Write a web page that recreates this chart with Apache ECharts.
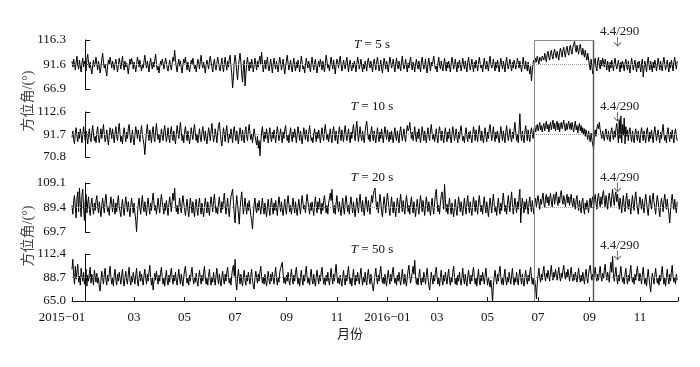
<!DOCTYPE html>
<html><head><meta charset="utf-8">
<script src="https://cdn.jsdelivr.net/npm/echarts@6/dist/echarts.min.js"></script>
<style>html,body{margin:0;padding:0;background:#fff}#c{width:700px;height:367px}</style>
</head><body><div id="c"></div>
<script>
// ---- data (x = day counted from 2015-01-01) ----
const dayStart = -16;
const xMin = -16, xMax = 716;
const tickDays = [-16, 59, 120, 181, 243, 304, 365, 425, 486, 547, 609, 670];
const tickLabels = ['2015−01','03','05','07','09','11','2016−01','03','05','07','09','11'];
const periods = ['5', '10', '20', '50'];
const yTicks5 = [66.9, 91.6, 116.3];
const yTicks10 = [70.8, 91.7, 112.6];
const yTicks20 = [69.7, 89.4, 109.1];
const yTicks50 = [65.0, 88.7, 112.4];
const eventDay = 643;
const eventLabel = '4.4/290';
const boxDays = [542, 614];

const az5 = [
95,89,97,92,86,94,100,91,87,96,90,84,93,98,89,95,91,85,97,102,93,88,94,87,82,91,96,89,93,99,
92,86,95,90,83,89,97,103,94,88,92,85,80,90,96,92,99,94,88,95,91,86,93,97,90,84,91,98,93,87,
94,100,91,86,95,89,93,88,82,90,97,92,98,93,87,94,90,84,91,99,95,89,96,90,85,92,88,95,101,93,
88,95,90,84,93,98,91,87,94,89,96,102,92,86,90,83,89,95,91,97,93,87,92,98,94,88,85,91,96,90,
86,93,99,95,106,96,89,84,92,97,90,95,88,83,91,97,93,99,92,86,94,89,84,90,96,92,98,93,87,91,
84,90,97,93,87,95,101,92,88,94,89,83,91,96,92,87,95,100,94,89,84,92,97,90,86,93,99,94,88,85,
92,98,90,84,93,99,91,86,95,89,97,101,90,82,68,79,94,101,95,84,76,89,97,103,94,82,74,87,96,70,
81,93,99,91,85,94,88,97,92,84,91,98,92,86,95,89,96,100,92,104,94,84,90,96,87,93,99,90,85,91,
97,90,83,92,98,91,87,95,89,84,93,99,93,86,91,97,89,82,90,95,101,93,86,91,96,89,84,92,98,90,
85,94,88,96,91,84,92,100,94,87,90,83,91,98,93,88,95,90,84,93,99,91,86,93,97,88,83,91,95,89,
97,92,86,95,89,84,93,101,95,88,91,85,93,99,92,87,96,90,82,91,97,94,88,95,100,92,85,90,96,91,
87,94,99,91,84,92,96,89,85,93,88,95,91,84,92,99,94,87,91,97,90,84,92,87,95,91,85,94,98,92,
88,95,90,84,92,97,91,86,94,99,92,85,90,96,88,83,91,98,93,87,95,90,84,92,99,94,88,91,97,90,
84,92,98,91,87,95,90,85,94,100,92,87,91,97,90,84,93,88,95,99,91,86,94,90,84,92,97,91,87,95,
90,84,94,99,92,87,91,97,88,83,92,98,91,85,94,90,95,100,92,87,90,84,93,99,91,87,95,90,85,92,
98,91,85,94,88,95,90,84,92,99,94,87,91,97,90,84,94,88,96,92,85,91,98,92,87,95,90,84,94,99,
92,86,91,97,90,84,94,88,96,91,85,92,99,93,88,91,84,92,98,91,87,95,90,85,94,100,92,88,91,97,
90,85,94,88,96,91,84,92,98,92,87,95,90,84,94,99,91,87,92,97,90,85,94,88,96,92,87,91,98,94,
88,95,90,84,92,99,91,87,95,90,85,94,87,82,90,75,86,93,96,93,98,94,100,96,92,99,101,95,100,102,
96,103,99,94,102,105,99,96,103,106,100,97,104,107,101,98,105,101,96,104,108,103,99,106,109,102,99,107,110,104,
101,108,111,105,102,109,112,115,108,104,111,106,102,109,112,105,101,108,103,99,106,100,96,103,97,91,86,97,90,82,
80,94,98,89,85,95,99,91,87,96,90,98,94,89,97,92,86,95,90,84,94,88,96,91,85,93,98,91,87,91,
96,90,84,94,88,95,91,85,93,97,90,86,95,89,83,92,98,92,86,91,96,89,84,94,88,95,90,84,93,97,
79,88,95,90,84,93,99,91,86,95,89,84,94,88,96,92,85,91,98,92,86,95,89,85,94,99,92,86,91,96,
89,84,94,88,96,91,85,94,99,92,87,95
];
const az10 = [
89,95,87,83,93,98,90,85,94,88,97,92,84,91,99,92,86,95,89,83,92,97,88,85,94,100,92,86,90,84,
94,99,89,84,91,97,88,94,101,92,85,89,96,87,82,91,98,94,88,97,90,84,93,99,90,86,95,102,93,85,
90,83,93,98,91,85,94,88,97,101,92,84,89,96,87,82,91,99,94,88,96,91,85,94,100,92,87,82,73,85,
95,101,92,86,96,90,84,94,99,89,85,95,102,93,87,92,84,89,97,91,86,95,100,92,85,90,98,89,84,94,
99,90,86,95,89,83,92,100,94,88,96,103,94,86,91,84,94,99,92,86,95,89,83,90,98,92,87,96,101,93,
86,92,84,91,97,89,85,94,99,92,86,95,88,83,91,98,93,86,95,102,92,85,89,97,91,84,94,100,103,94,
86,81,90,98,92,85,95,100,90,84,92,88,97,91,84,94,99,92,86,95,89,83,91,98,92,86,96,89,84,94,
99,90,86,95,101,93,87,92,84,90,97,91,86,82,90,79,86,72,84,94,99,91,85,94,88,97,91,84,92,98,
89,85,94,88,96,91,84,92,99,93,86,91,97,89,84,94,88,96,100,92,86,91,84,92,98,90,85,94,89,97,
91,84,92,99,93,86,95,89,83,91,98,92,87,96,90,85,94,100,92,86,89,84,92,97,91,85,94,88,96,90,
84,92,98,90,86,95,101,93,87,92,85,91,97,89,84,94,99,91,86,95,89,83,92,99,92,86,96,90,85,94,
100,92,86,91,97,89,84,94,88,95,101,92,86,97,104,94,85,92,99,90,86,95,89,84,94,100,104,95,87,92,
85,94,99,90,86,95,89,84,92,98,90,85,94,88,97,91,84,92,99,93,87,96,90,85,94,87,95,89,84,92,
98,90,86,95,89,84,94,99,92,86,91,97,89,85,94,100,95,97,103,95,88,94,86,92,99,90,85,94,88,97,
90,84,92,99,93,86,95,89,84,92,98,90,86,95,101,93,87,92,85,90,97,89,84,94,99,92,86,95,89,84,
92,98,90,85,94,88,97,90,84,92,99,93,86,91,97,89,84,94,88,95,100,92,86,90,84,92,98,90,85,94,
88,95,89,84,92,99,93,86,96,90,85,94,100,92,86,95,89,84,92,98,90,85,94,88,97,101,93,86,92,99,
90,85,94,88,95,89,84,92,99,92,86,95,89,84,94,100,92,86,91,97,89,85,94,88,96,103,94,86,92,84,
96,111,92,86,95,89,84,94,100,92,86,96,90,85,94,98,92,88,96,100,94,98,101,95,99,103,96,100,94,99,
102,95,100,104,97,101,94,100,103,96,101,105,97,102,95,101,104,96,102,94,100,103,97,101,105,98,95,102,96,101,
104,97,102,96,103,98,94,101,104,96,100,93,99,102,95,100,93,98,92,97,90,96,91,87,95,89,85,93,87,82,
79,91,96,90,97,101,97,103,96,92,88,95,90,86,93,97,90,87,95,89,85,94,98,91,87,95,89,97,102,93,
84,105,88,109,84,101,91,107,83,99,90,96,86,94,98,90,85,95,89,84,93,97,90,86,95,89,84,93,98,91,
86,95,89,84,94,98,90,85,94,88,96,90,84,93,99,93,86,91,96,89,84,94,88,95,101,92,86,91,84,94,
98,90,85,94,88,96,89,84,93,97,90,86
];
const az20 = [
91,84,95,99,90,81,97,102,86,105,92,82,99,104,89,79,95,100,85,93,98,88,83,92,97,89,84,93,87,95,
99,90,85,94,88,82,91,97,90,85,95,100,92,86,90,83,92,98,92,86,96,89,84,93,86,94,99,90,86,82,
91,96,88,83,92,98,91,86,94,88,82,91,97,90,85,93,85,79,70,83,92,97,89,84,93,99,90,86,94,88,
83,92,97,89,84,93,87,95,101,93,87,91,84,90,97,90,85,94,100,94,89,84,93,87,95,89,83,92,98,91,
86,95,101,95,105,93,86,91,84,90,97,90,85,93,99,93,88,83,90,96,88,82,90,97,91,85,94,87,82,91,
96,88,83,92,97,89,84,93,87,82,90,97,91,85,94,88,83,92,98,92,86,95,100,92,85,90,84,93,98,90,
85,94,88,95,101,92,84,90,97,88,82,91,98,101,104,94,84,77,90,99,92,85,76,88,96,102,93,84,90,97,
90,84,93,87,95,89,83,79,72,83,92,97,89,85,93,87,95,89,84,91,97,89,84,93,87,82,90,96,88,83,
92,97,89,84,93,87,95,89,83,91,98,92,86,94,88,83,90,96,88,84,93,99,92,86,91,84,90,97,90,85,
94,88,83,90,96,89,84,93,99,93,88,91,85,94,100,94,89,84,93,87,94,88,83,92,98,90,85,94,88,97,
89,84,93,87,95,99,92,85,91,84,93,97,101,95,104,93,85,91,84,93,99,91,86,94,88,83,91,97,89,84,
93,99,93,86,91,84,93,98,91,85,94,88,82,90,97,91,85,94,100,92,86,95,88,83,91,98,92,86,95,89,
84,93,99,93,100,103,105,96,88,94,85,92,100,94,86,82,91,98,92,85,94,101,95,88,83,91,98,90,85,94,
88,82,90,97,91,85,94,100,92,86,95,89,84,93,99,93,86,91,84,93,98,90,85,94,88,82,90,96,89,84,
93,99,93,86,95,89,83,91,98,92,86,94,88,83,91,97,89,84,93,100,104,94,86,91,84,93,99,102,95,88,
108,96,86,92,84,91,97,89,84,93,87,82,90,96,88,83,91,98,92,86,94,88,83,91,97,89,84,93,99,90,
85,94,88,83,91,98,92,86,95,89,84,93,99,92,86,91,84,93,98,90,85,94,88,82,90,97,91,85,94,100,
92,86,90,83,91,97,89,84,93,87,95,101,93,86,91,84,93,99,92,86,95,102,92,84,90,97,91,85,94,88,
98,104,77,90,97,91,85,94,88,96,90,84,93,98,90,86,95,89,84,93,97,90,95,99,93,88,96,92,97,101,
93,89,97,100,93,98,91,96,101,94,90,97,100,92,98,102,95,91,98,93,100,103,96,92,99,95,90,97,100,93,
98,91,96,100,93,90,97,92,88,96,99,91,87,95,90,85,94,97,89,84,93,88,95,90,85,94,97,89,95,98,
90,96,100,93,88,97,101,94,90,98,92,100,103,95,90,99,94,88,97,101,95,90,98,104,96,91,99,102,94,100,
93,88,97,92,85,94,99,90,86,95,101,93,88,96,90,84,93,99,92,87,97,102,94,89,84,92,98,93,88,96,
90,85,94,100,94,88,83,92,99,93,88,96,101,94,89,84,93,99,94,88,82,91,97,92,86,95,100,93,88,96,
90,84,77,87,95,100,93,88,96,90,85,94
];
const az50 = [
97,107,91,82,100,87,95,102,84,90,81,98,90,85,94,82,88,97,80,91,85,93,99,83,92,87,81,96,90,84,
93,83,89,79,75,86,95,88,82,92,98,86,81,91,85,93,100,89,82,88,80,91,97,86,81,92,85,94,88,82,
91,97,85,80,89,95,86,82,92,99,87,81,90,84,94,88,82,91,98,86,80,88,95,85,92,86,81,91,97,88,
82,92,85,94,101,89,81,88,76,85,93,86,95,88,82,91,85,94,99,89,82,88,80,89,96,86,81,91,84,93,
98,88,82,91,85,94,86,81,89,97,88,82,92,85,80,89,96,100,90,83,88,81,91,85,94,99,88,82,89,84,
93,85,80,89,96,88,82,91,85,94,100,89,82,88,81,91,97,86,81,89,84,94,86,81,91,98,88,82,92,85,
80,89,95,86,82,92,85,94,99,89,83,88,81,91,98,101,90,107,83,76,88,97,89,82,92,85,80,89,96,86,
81,91,85,94,88,82,91,97,86,80,77,88,95,89,83,92,85,94,100,90,83,89,82,92,85,80,88,95,86,82,
92,85,94,88,82,91,99,88,81,89,84,94,98,100,104,92,83,89,82,91,85,94,86,81,89,97,88,82,91,85,
94,99,89,82,88,80,89,96,86,81,91,85,94,100,89,83,88,81,91,97,86,82,92,85,80,89,96,88,82,91,
85,94,99,89,82,88,81,91,85,94,86,81,89,98,88,82,92,85,94,102,91,83,89,82,91,85,80,89,96,86,
81,91,85,94,100,89,82,88,80,89,97,86,81,91,85,94,88,82,91,98,88,81,89,84,94,86,81,91,97,88,
82,92,85,80,75,84,92,98,88,82,91,85,94,100,90,83,89,82,92,85,80,89,96,88,82,92,85,94,99,89,
83,88,81,91,85,94,86,81,89,97,88,82,92,85,80,89,96,101,90,83,88,94,100,92,106,90,82,88,81,91,
97,86,81,89,84,94,88,82,91,98,88,81,76,85,94,88,82,91,85,94,99,89,82,88,80,89,96,86,81,91,
85,94,88,82,91,97,86,81,89,84,94,100,89,82,88,81,91,85,94,86,81,89,98,88,82,92,85,80,89,96,
88,82,91,85,94,99,89,82,88,80,89,97,86,81,91,85,94,88,82,91,98,88,81,89,84,79,86,77,64,81,
89,96,88,82,92,85,94,100,89,82,88,81,91,97,86,81,89,84,94,88,82,91,98,88,81,89,84,94,86,81,
91,97,88,82,92,85,80,89,96,88,82,91,85,94,99,89,82,88,81,86,79,67,83,91,98,89,84,92,86,95,
100,90,85,93,88,96,90,85,94,101,91,86,94,89,97,91,86,93,99,90,85,93,88,96,101,92,87,94,89,97,
91,85,93,99,90,85,92,86,94,89,84,92,98,89,84,91,85,94,88,82,91,97,88,83,92,98,101,92,86,92,
85,93,99,90,85,92,86,94,100,90,85,93,88,96,102,92,86,94,89,84,97,104,94,110,92,85,92,99,89,82,
91,85,93,100,90,84,89,82,92,98,88,82,91,85,94,101,90,84,89,82,92,86,94,100,90,85,93,88,82,92,
99,89,82,88,80,89,97,88,81,74,85,93,88,82,91,98,89,83,88,81,91,85,94,100,89,82,88,80,89,97,
88,82,92,85,94,101,90,84,89,82,92,86
];
const seriesValues = [az5, az10, az20, az50];
const yTicks = [yTicks5, yTicks10, yTicks20, yTicks50];

// ---- layout / style ----
const SERIF = '"Liberation Serif", "Times New Roman", serif';
const CJK = '"Liberation Serif", "Noto Sans CJK SC", serif';
const gridTops = [40, 112, 183, 254];
const gridHeights = [49, 45, 49, 47];
const titleTops = [38, 100, 171, 243];
const arrowOffsets = [1.5, 4.5, 4, 1];

const chart = echarts.init(document.getElementById('c'), null, {renderer: 'canvas'});

const grids = gridTops.map((t, i) => ({left: 72, right: 22, top: t, height: gridHeights[i]}));
grids.push({left: 72, right: 22, top: 40, height: 261});

const xAxes = [0, 1, 2, 3].map(i => {
  const base = {gridIndex: i, type: 'value', min: xMin, max: xMax, splitLine: {show: false}};
  if (i < 3) return Object.assign(base, {show: false});
  return Object.assign(base, {
    axisLine: {show: true, lineStyle: {color: '#111', width: 1}},
    axisTick: {show: true, inside: true, length: 4, lineStyle: {color: '#111'}, customValues: tickDays.concat([xMax])},
    axisLabel: {
      show: true, customValues: tickDays, margin: 10, color: '#111', fontFamily: SERIF, fontSize: 13,
      formatter: v => {
        const k = tickDays.indexOf(v);
        if (k < 0) return '';
        return k === 0 ? '{a|' + tickLabels[k] + '}' : tickLabels[k];
      },
      rich: {a: {fontFamily: SERIF, fontSize: 13, color: '#111', padding: [0, 20, 0, 0]}}
    },
    name: '月份', nameLocation: 'middle', nameGap: 27,
    nameTextStyle: {fontFamily: CJK, fontSize: 13, color: '#222', padding: [0, 50, 0, 0]}
  });
});
xAxes.push({gridIndex: 4, type: 'value', min: xMin, max: xMax, show: false});

const yAxes = yTicks.map((tk, i) => ({
  gridIndex: i, type: 'value', min: tk[0], max: tk[2],
  splitLine: {show: false},
  axisLine: {show: true, lineStyle: {color: '#111', width: 1}},
  axisTick: {show: true, inside: true, length: 5, lineStyle: {color: '#111'}, customValues: tk},
  axisLabel: {show: true, customValues: tk, margin: 6, color: '#111', fontFamily: SERIF, fontSize: 13,
    formatter: v => v.toFixed(1)}
}));
yAxes.push({gridIndex: 4, type: 'value', min: 0, max: 1, show: false});

const series = seriesValues.map((vals, i) => ({
  type: 'line', xAxisIndex: i, yAxisIndex: i,
  data: vals.map((v, j) => [j + dayStart, v]),
  showSymbol: false, symbol: 'none', silent: true, clip: true,
  lineStyle: {color: '#000', width: 1},
  markLine: {
    silent: true, symbol: 'none', label: {show: false},
    lineStyle: {type: 'dotted', color: '#999', width: 1},
    data: [{yAxis: yTicks[i][1]}]
  },
  markPoint: {
    silent: true,
    symbol: 'path://M5,0L5,10M1.5,6L5,10L8.5,6',
    symbolSize: [7, 9],
    symbolOffset: [0, arrowOffsets[i]],
    itemStyle: {color: 'none', borderColor: '#666', borderWidth: 1},
    label: {show: true, position: 'top', distance: 0, offset: [2, 4], formatter: eventLabel,
      color: '#222', fontFamily: SERIF, fontSize: 13},
    data: [{coord: [eventDay, yTicks[i][2]]}]
  }
}));
series.push({
  type: 'line', xAxisIndex: 4, yAxisIndex: 4, data: [], silent: true,
  markLine: {
    silent: true, symbol: 'none', label: {show: false},
    data: [
      {xAxis: boxDays[0], lineStyle: {type: 'solid', color: '#8c8c8c', width: 1}},
      {xAxis: boxDays[1], lineStyle: {type: 'solid', color: '#555', width: 1.4}},
      [{coord: [boxDays[0], 1], lineStyle: {type: 'solid', color: '#8c8c8c', width: 1}}, {coord: [boxDays[1], 1]}]
    ]
  }
});

const titles = periods.map((p, i) => ({
  text: '{i|T} = ' + p + ' s', left: 372, top: titleTops[i], textAlign: 'center', padding: 0,
  textStyle: {fontFamily: SERIF, fontSize: 13, fontWeight: 'normal', color: '#111',
    rich: {i: {fontFamily: SERIF, fontSize: 13, fontStyle: 'italic', color: '#111'}}}
}));

chart.setOption({
  animation: false,
  backgroundColor: '#fff',
  title: titles,
  grid: grids,
  xAxis: xAxes,
  yAxis: yAxes,
  series: series,
  graphic: [101, 236].map(y => ({
    type: 'text', x: 28, y: y, rotation: Math.PI / 2, silent: true,
    style: {text: '方位角/(°)', align: 'center', verticalAlign: 'middle',
      font: '14px ' + CJK, fill: '#444'}
  }))
});
</script>
</body></html>
